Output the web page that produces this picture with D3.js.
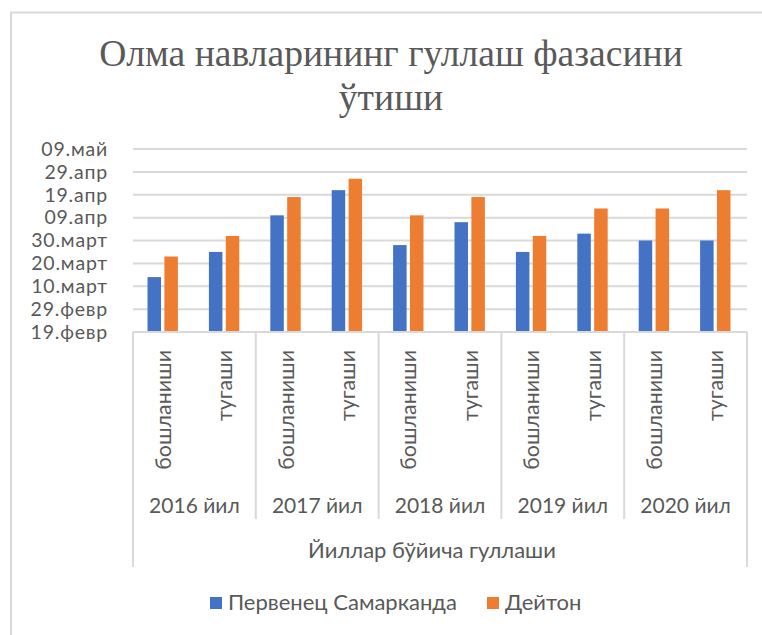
<!DOCTYPE html>
<html>
<head>
<meta charset="utf-8">
<script src="https://cdn.jsdelivr.net/npm/d3@7"></script>
<style>
  html, body { margin: 0; padding: 0; background: #fff; }
  svg { display: block; }
</style>
</head>
<body>
<svg id="chart" width="762" height="635"></svg>
<script>
// Flowering phases of apple varieties, by year (dates within one season)
const years = ["2016 йил", "2017 йил", "2018 йил", "2019 йил", "2020 йил"];
const phases = ["бошланиши", "тугаши"];
const seriesNames = ["Первенец Самарканда", "Дейтон"];
const pervenets = ["2020-03-14", "2020-03-25", "2020-04-10", "2020-04-21", "2020-03-28",
                   "2020-04-07", "2020-03-25", "2020-04-02", "2020-03-30", "2020-03-30"];
const deyton    = ["2020-03-23", "2020-04-01", "2020-04-18", "2020-04-26", "2020-04-10",
                   "2020-04-18", "2020-04-01", "2020-04-13", "2020-04-13", "2020-04-21"];
const tickDates  = ["2020-02-19", "2020-02-29", "2020-03-10", "2020-03-20", "2020-03-30",
                    "2020-04-09", "2020-04-19", "2020-04-29", "2020-05-09"];
const tickLabels = ["19.февр", "29.февр", "10.март", "20.март", "30.март",
                    "09.апр", "19.апр", "29.апр", "09.май"];
const titleLines = ["Олма навларининг гуллаш фазасини", "ўтиши"];
const axisTitle = "Йиллар бўйича гуллаши";
const colors = ["#4472C4", "#ED7D31"];

const parse = d3.utcParse("%Y-%m-%d");
const svg = d3.select("#chart");
const grey = "#595959", lineGrey = "#d9d9d9";
const sansFont = "Lato, 'Open Sans', sans-serif";

// chart area frame
svg.append("path")
  .attr("d", "M11,640 L11,12.5 L770,12.5")
  .attr("fill", "none").attr("stroke", lineGrey).attr("stroke-width", 2);

// title
svg.append("text")
  .attr("x", 391).attr("y", 66)
  .attr("text-anchor", "middle")
  .attr("font-family", "'Liberation Serif', 'Times New Roman', serif")
  .attr("font-size", 37.6).attr("fill", grey)
  .selectAll("tspan").data(titleLines).join("tspan")
  .attr("x", 391).attr("dy", (d, i) => i === 0 ? 0 : 44)
  .text(d => d);

const plot = { left: 133, right: 747, top: 149, bottom: 332 };

// categories: every year has a start and an end phase
const cats = [];
years.forEach(y => phases.forEach(p => cats.push({ year: y, phase: p })));

const x = d3.scaleBand()
  .domain(d3.range(cats.length))
  .range([plot.left, plot.right]);
const xYear = d3.scaleBand().domain(years).range([plot.left, plot.right]);
const x1 = d3.scaleBand()
  .domain(seriesNames)
  .range([-1, x.bandwidth() - 1])
  .paddingInner(0.2)
  .paddingOuter(0.92);

const y = d3.scaleUtc()
  .domain([parse(tickDates[0]), parse(tickDates[tickDates.length - 1])])
  .range([plot.bottom, plot.top]);

// gridlines
svg.append("g")
  .selectAll("line").data(tickDates.slice(1)).join("line")
  .attr("x1", plot.left).attr("x2", plot.right)
  .attr("y1", d => y(parse(d))).attr("y2", d => y(parse(d)))
  .attr("stroke", lineGrey).attr("stroke-width", 2);

// value axis
const labelOf = new Map(tickDates.map((d, i) => [+parse(d), tickLabels[i]]));
const yAxis = svg.append("g")
  .attr("transform", `translate(${plot.left - 25},0)`)
  .call(d3.axisLeft(y)
    .tickValues(tickDates.map(parse))
    .tickFormat(d => labelOf.get(+d))
    .tickSize(0).tickPadding(0));
yAxis.select(".domain").remove();
yAxis.selectAll("text")
  .attr("font-family", sansFont).attr("font-size", 19.5)
  .attr("letter-spacing", 0.8).attr("fill", grey);

// bars
const series = [pervenets, deyton];
series.forEach((vals, s) => {
  svg.append("g")
    .selectAll("rect").data(vals).join("rect")
    .attr("x", (d, i) => x(i) + x1(seriesNames[s]))
    .attr("width", x1.bandwidth())
    .attr("y", d => y(parse(d)))
    .attr("height", d => y(parse(tickDates[0])) - y(parse(d)))
    .attr("fill", colors[s]);
});

// category axis: baseline, year separators and outer borders
const ax = svg.append("g").attr("stroke", lineGrey).attr("stroke-width", 2);
ax.append("line")
  .attr("x1", plot.left).attr("x2", plot.right)
  .attr("y1", plot.bottom).attr("y2", plot.bottom);
ax.selectAll("line.sep").data(years.slice(1)).join("line")
  .attr("class", "sep")
  .attr("x1", d => xYear(d)).attr("x2", d => xYear(d))
  .attr("y1", plot.bottom).attr("y2", 519);
ax.selectAll("line.edge").data([plot.left, plot.right]).join("line")
  .attr("class", "edge")
  .attr("x1", d => d).attr("x2", d => d)
  .attr("y1", plot.bottom).attr("y2", 567);

// phase labels, rotated
svg.append("g")
  .selectAll("text").data(cats).join("text")
  .attr("transform", (d, i) => `translate(${x(i) + x.bandwidth() / 2 + 7},350) rotate(-90)`)
  .attr("text-anchor", "end")
  .attr("font-family", sansFont).attr("font-size", 21.4).attr("fill", grey)
  .text(d => d.phase);

// year labels
svg.append("g")
  .selectAll("text").data(years).join("text")
  .attr("x", d => xYear(d) + xYear.bandwidth() / 2)
  .attr("y", 513)
  .attr("text-anchor", "middle")
  .attr("font-family", sansFont).attr("font-size", 21).attr("fill", grey)
  .text(d => d);

// axis title
svg.append("text")
  .attr("x", (plot.left + plot.right) / 2 - 8).attr("y", 558)
  .attr("text-anchor", "middle")
  .attr("font-family", sansFont).attr("font-size", 22).attr("fill", grey)
  .text(axisTitle);

// legend
const legendX = [210, 487];
const lg = svg.append("g").selectAll("g").data(seriesNames).join("g")
  .attr("transform", (d, i) => `translate(${legendX[i]},597)`);
lg.append("rect").attr("width", 12).attr("height", 12)
  .attr("fill", (d, i) => colors[i]);
lg.append("text")
  .attr("x", 18).attr("y", 12.5)
  .attr("font-family", sansFont).attr("font-size", 22).attr("fill", grey)
  .text(d => d);
</script>
</body>
</html>
